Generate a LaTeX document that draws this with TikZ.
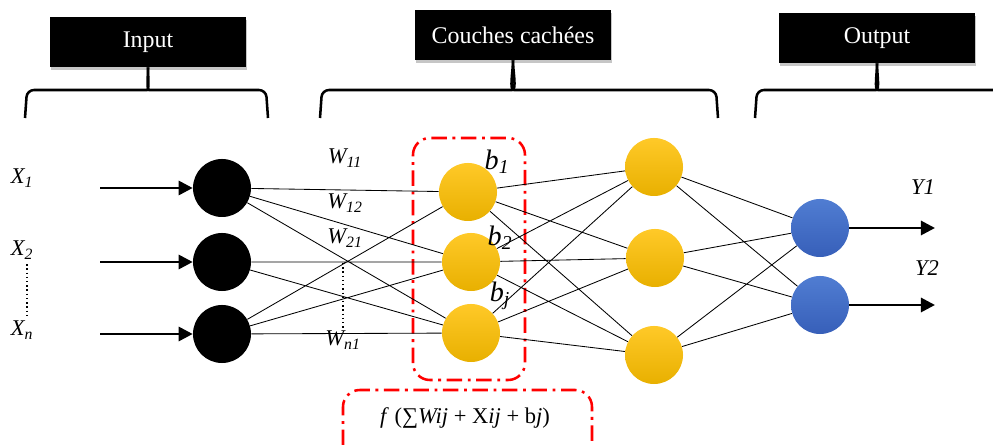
\documentclass[tikz,border=0pt]{standalone}
\usepackage{fontspec}
\setmainfont{Liberation Serif}
\usetikzlibrary{arrows.meta,shadows}

\definecolor{goldtop}{RGB}{255,201,40}
\definecolor{goldbot}{RGB}{232,176,0}
\definecolor{bluetop}{RGB}{80,125,210}
\definecolor{bluebot}{RGB}{55,95,185}

\tikzset{
  hdr/.style={fill=black, text=white, minimum width=4.9cm, minimum height=1.25cm,
    inner sep=0pt, drop shadow={opacity=0.45, shadow xshift=1pt, shadow yshift=-2pt},
    font=\fontsize{17}{19}\selectfont},
  brc/.style={line width=1.8pt, rounded corners=5pt},
  neur/.style={circle, minimum size=1.45cm, inner sep=0pt},
  blk/.style={neur, fill=black},
  gld/.style={neur, top color=goldtop, bottom color=goldbot},
  blu/.style={neur, top color=bluetop, bottom color=bluebot},
  wire/.style={line width=0.6pt},
  feed/.style={line width=2pt, -{Triangle[length=10pt, width=10pt]}},
  lab/.style={font=\fontsize{16}{18}\selectfont\itshape},
  wlab/.style={font=\fontsize{16}{18}\selectfont\itshape, inner sep=1pt},
  blab/.style={font=\fontsize{20}{22}\selectfont\itshape, inner sep=1pt},
  redbox/.style={red, line width=1.8pt, rounded corners=12pt,
    dash pattern=on 11pt off 4pt on 2pt off 4pt}
}

\begin{document}
\begin{tikzpicture}[x=0.025cm, y=0.025cm]
    \useasboundingbox (0,0) rectangle (993,445);
    %% headers
    \node[hdr] (hin) at (148,403) {Input};
    \node[hdr] (hhid) at (513,410) {Couches cachées};
    \node[hdr] (hout) at (877,407) {Output};
    %% braces
    \draw[brc] (25,327) -- (27,355) -- (140,355) to[out=0,in=-90] (hin.south);
    \draw[brc] (hin.south) to[out=-90,in=180] (156,355) -- (266,355) -- (268,327);
    \draw[brc] (320,327) -- (322,355) -- (505,355) to[out=0,in=-90] (hhid.south);
    \draw[brc] (hhid.south) to[out=-90,in=180] (521,355) -- (716,355) -- (718,327);
    \draw[brc] (755,327) -- (757,355) -- (869,355) to[out=0,in=-90] (hout.south);
    \draw[brc] (hout.south) to[out=-90,in=180] (885,355) -- (993,355);
    %% red boxes
    \draw[redbox] (413,65) rectangle (525,307);
    \draw[redbox] (343,0) -- (343,55) -- (592,55) -- (592,0);
    \node[font=\fontsize{16}{18}\selectfont] (fsum) at (465,27)
      {\textit{f} (∑\textit{Wij} + X\textit{ij} + b\textit{j})};
    %% neurons
    \node[blk] (i1) at (222,257) {};
    \node[blk] (i2) at (222,183) {};
    \node[blk] (i3) at (222,111) {};
    \node[gld] (a1) at (468,253) {};
    \node[gld] (a2) at (471,183) {};
    \node[gld] (a3) at (471,112) {};
    \node[gld] (c1) at (654,278) {};
    \node[gld] (c2) at (655,187) {};
    \node[gld] (c3) at (654,90) {};
    \node[blu] (o1) at (820,217) {};
    \node[blu] (o2) at (820,140) {};
    %% inputs
    \coordinate (s1) at (100,257);
    \coordinate (s2) at (100,183);
    \coordinate (s3) at (100,111);
    \draw[feed] (s1) -- (i1);
    \draw[feed] (s2) -- (i2);
    \draw[feed] (s3) -- (i3);
    \node[lab] (x1) at (22,267) {X\textsubscript{1}};
    \node[lab] (x2) at (22,195) {X\textsubscript{2}};
    \node[lab] (xn) at (22,115) {X\textsubscript{n}};
    \draw[dotted, line width=1pt] (x2.south -| 27,0) -- (xn.north -| 27,0);
    %% outputs
    \coordinate (e1) at (935,217);
    \coordinate (e2) at (935,140);
    \draw[feed] (o1) -- (e1);
    \draw[feed] (o2) -- (e2);
    \node[lab] (y1) at (923,258) {Y1};
    \node[lab] (y2) at (927,177) {Y2};
    %% edges
    \draw[wire] (i1) -- (a1) (i1) -- (a2) (i1) -- (a3)
                (i2) -- (a2) (i2) -- (a3)
                (i3) -- (a1) (i3) -- (a2) (i3) -- (a3);
    \draw[wire] (a1) -- (c1) (a1) -- (c2) (a1) -- (c3)
                (a2) -- (c1) (a2) -- (c2) (a2) -- (c3)
                (a3) -- (c1) (a3) -- (c2) (a3) -- (c3);
    \draw[wire] (c1) -- (o1) (c1) -- (o2)
                (c2) -- (o1) (c2) -- (o2)
                (c3) -- (o1) (c3) -- (o2);
    %% weights and biases
    \node[wlab] (w11) at (345,287) {W\textsubscript{11}};
    \node[wlab] (w12) at (345,242) {W\textsubscript{12}};
    \node[wlab] (w21) at (345,207) {W\textsubscript{21}};
    \node[wlab] (wn1) at (343,105) {W\textsubscript{n1}};
    \draw[dotted, line width=1pt] (343,182) -- (wn1.north);
    \node[blab] (b1) at (497,283) {b\textsubscript{1}};
    \node[blab] (b2) at (500,207) {b\textsubscript{2}};
    \node[blab] (bj) at (500,149) {b\textsubscript{j}};
\end{tikzpicture}
\end{document}
